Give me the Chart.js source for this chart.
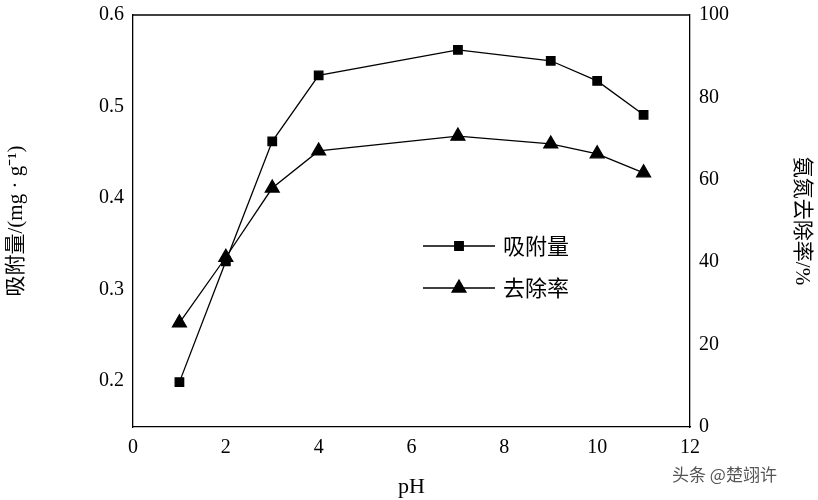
<!DOCTYPE html>
<html><head><meta charset="utf-8">
<script src="https://cdn.jsdelivr.net/npm/chart.js@4/dist/chart.umd.min.js"></script>
<style>html,body{margin:0;background:#fff}#wrap{width:818px;height:500px}</style>
</head><body><div id="wrap"><canvas id="c" width="818" height="500"></canvas></div>
<script>
var phValues = [1, 2, 3, 4, 7, 9, 10, 11];
var adsorption = [0.199, 0.331, 0.462, 0.534, 0.562, 0.550, 0.528, 0.491];
var removal = [25.3, 41.2, 58.0, 67.0, 70.6, 68.7, 66.3, 61.7];
var leftTicks = [0.2, 0.3, 0.4, 0.5, 0.6];
var seriesNames = ['吸附量', '去除率'];
var serif = "'Liberation Serif', 'Noto Sans CJK SC', serif";

function pts(ys) { return phValues.map(function (x, i) { return { x: x, y: ys[i] }; }); }

var legendPlugin = {
  id: 'innerLegend',
  afterDraw: function (chart) {
    var ctx = chart.ctx;
    var items = [['rect', 6], ['triangle', 8]];
    ctx.save();
    ctx.fillStyle = '#000'; ctx.strokeStyle = '#000'; ctx.lineWidth = 1.3;
    ctx.font = "22px 'Noto Sans CJK SC'";
    ctx.textBaseline = 'middle';
    for (var i = 0; i < 2; i++) {
      var y = 246 + i * 42;
      ctx.beginPath(); ctx.moveTo(423, y); ctx.lineTo(495, y); ctx.stroke();
      Chart.helpers.drawPoint(ctx, { pointStyle: items[i][0], radius: items[i][1], borderWidth: 1 }, 459, y);
      ctx.fill();
      ctx.fillText(seriesNames[i], 503, y);
    }
    ctx.font = "17px 'Noto Sans CJK SC'";
    ctx.fillStyle = '#555';
    ctx.fillText('头条 @楚翊许', 672, 475);
    ctx.restore();
  }
};

new Chart(document.getElementById('c'), {
  type: 'line',
  data: {
    datasets: [
      { label: seriesNames[0], data: pts(adsorption), yAxisID: 'y', borderColor: '#000', backgroundColor: '#000',
        borderWidth: 1.3, pointStyle: 'rect', pointRadius: 6, pointHoverRadius: 6 },
      { label: seriesNames[1], data: pts(removal), yAxisID: 'y1', borderColor: '#000', backgroundColor: '#000',
        borderWidth: 1.3, pointStyle: 'triangle', pointRadius: 8, pointHoverRadius: 8 }
    ]
  },
  options: {
    responsive: false, animation: false, devicePixelRatio: 1,
    layout: { padding: { top: 12 } },
    plugins: { legend: { display: false }, tooltip: { enabled: false } },
    scales: {
      x: { type: 'linear', min: 0, max: 12,
        ticks: { stepSize: 2, maxRotation: 0, color: '#000', font: { family: serif, size: 20 } },
        grid: { display: false, tickLength: 6 },
        border: { color: '#000', width: 1.3 },
        title: { display: true, text: 'pH', color: '#000', font: { family: serif, size: 22 }, padding: 0 },
        afterFit: function (s) { s.height = 73; } },
      y: { position: 'left', min: 0.15, max: 0.6,
        afterBuildTicks: function (s) { s.ticks = leftTicks.map(function (v) { return { value: v }; }); },
        ticks: { color: '#000', font: { family: serif, size: 20 }, callback: function (v) { return v.toFixed(1); } },
        grid: { display: false, tickLength: 6 },
        border: { color: '#000', width: 1.3 },
        title: { display: true, text: '吸附量/(mg · g⁻¹)', color: '#000', font: { family: serif, size: 21 } },
        afterFit: function (s) { s.width = 133; } },
      y1: { position: 'right', min: 0, max: 100,
        ticks: { stepSize: 20, color: '#000', font: { family: serif, size: 20 } },
        grid: { display: false, tickLength: 6 },
        border: { color: '#000', width: 1.3 },
        title: { display: true, text: '氨氮去除率/%', color: '#000', font: { family: serif, size: 21 } },
        afterFit: function (s) { s.width = 128; } }
    }
  },
  plugins: [legendPlugin, {
    id: 'topBorder',
    afterDraw: function (chart) {
      var a = chart.chartArea, ctx = chart.ctx;
      ctx.save(); ctx.strokeStyle = '#000'; ctx.lineWidth = 1.3;
      ctx.beginPath(); ctx.moveTo(a.left, a.top); ctx.lineTo(a.right, a.top); ctx.stroke(); ctx.restore();
    }
  }]
});
</script>
</body></html>
